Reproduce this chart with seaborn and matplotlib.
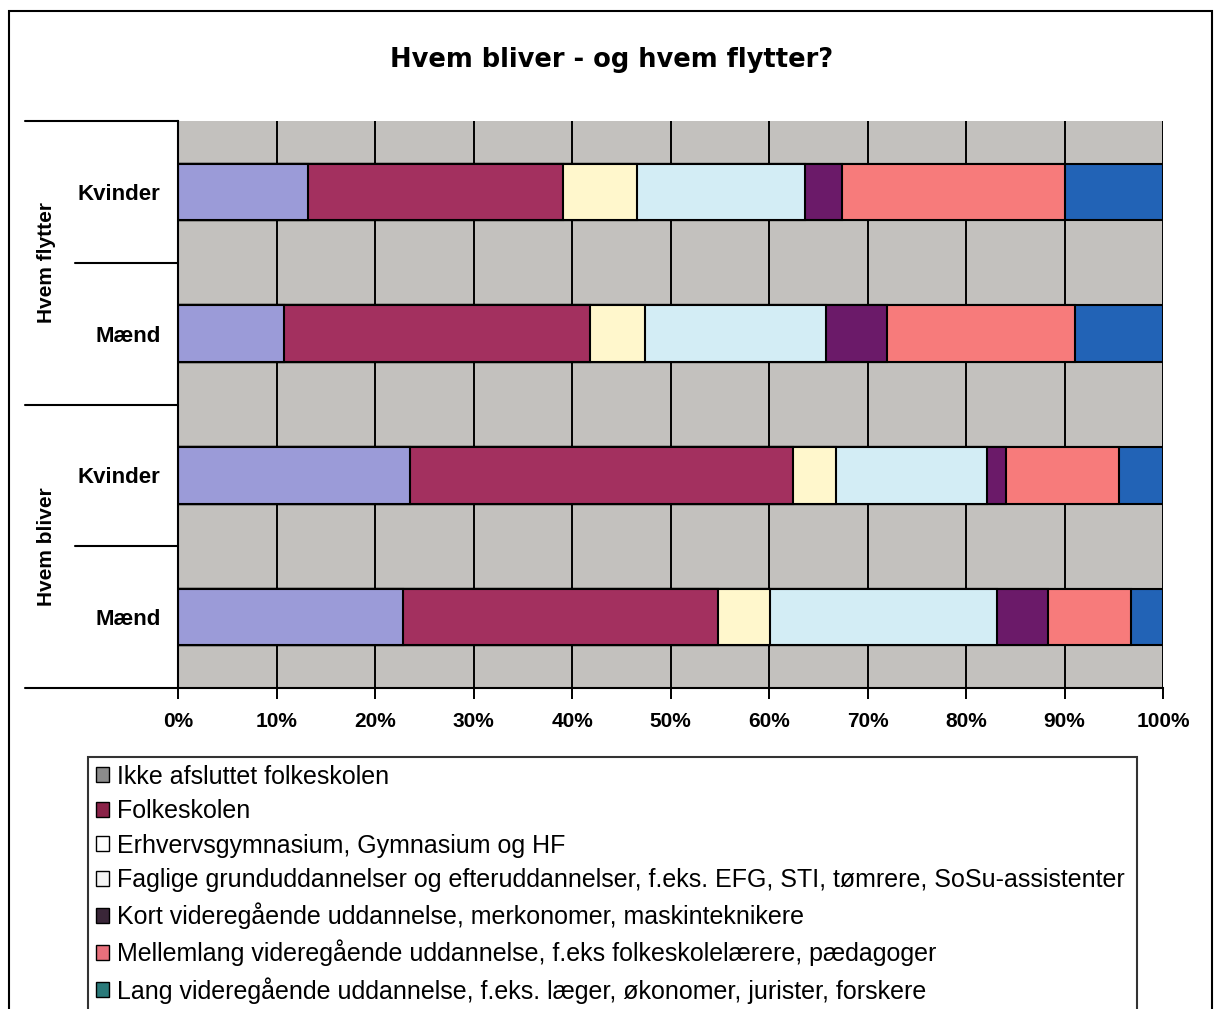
import numpy as np
import pandas as pd
import matplotlib
matplotlib.use("Agg")
import matplotlib.pyplot as plt
import matplotlib.transforms as mtransforms
import seaborn as sns
from matplotlib.patches import Patch, Rectangle
from matplotlib.lines import Line2D

# rows, top to bottom
groups = ["Hvem flytter", "Hvem flytter", "Hvem bliver", "Hvem bliver"]
genders = ["Kvinder", "Mænd", "Kvinder", "Mænd"]

levels = [
    "Ikke afsluttet folkeskolen",
    "Folkeskolen",
    "Erhvervsgymnasium, Gymnasium og HF",
    "Faglige grunduddannelser og efteruddannelser, f.eks. EFG, STI, tømrere, SoSu-assistenter",
    "Kort videregående uddannelse, merkonomer, maskinteknikere",
    "Mellemlang videregående uddannelse, f.eks folkeskolelærere, pædagoger",
    "Lang videregående uddannelse, f.eks. læger, økonomer, jurister, forskere",
]

# shares in percent
ikke = [13.2, 10.8, 23.6, 22.8]
folkeskolen = [25.9, 31.0, 38.8, 32.0]
gymnasium = [7.5, 5.6, 4.4, 5.3]
faglige = [17.1, 18.4, 15.3, 23.0]
kort = [3.7, 6.2, 2.0, 5.2]
mellemlang = [22.6, 19.1, 11.4, 8.5]
lang = [10.0, 8.9, 4.5, 3.2]

bar_colors = ["#9b9bd8", "#a3305f", "#fff7cc", "#d3edf5", "#6b1a69", "#f77b7b", "#2263b6"]
legend_colors = ["#8c8c8c", "#8a2248", "#ffffff", "#f4f4f4", "#3a2638", "#e8707c", "#2a7a7a"]

W, H = 1216, 1009

row_ids = [f"{g}|{s}" for g, s in zip(groups, genders)]
df = pd.DataFrame(
    np.array([ikke, folkeskolen, gymnasium, faglige, kort, mellemlang, lang]).T,
    columns=levels,
)
cum = df[levels].cumsum(axis=1)
cum["row"] = row_ids

sns.set_style("white")
plt.rcParams["font.family"] = ["Liberation Sans", "DejaVu Sans"]
plt.rcParams["text.color"] = "black"
plt.rcParams["xtick.color"] = "black"
plt.rcParams["ytick.color"] = "black"
plt.rcParams["axes.labelcolor"] = "black"

fig = plt.figure(figsize=(W / 100, H / 100), dpi=100)
ax = fig.add_axes([178 / W, 1 - 688 / H, (1163 - 178) / W, (688 - 121) / H])
ax.set_facecolor("#c3c1be")

# stacked bars: draw cumulative totals from the outside in
for i in reversed(range(len(levels))):
    sns.barplot(data=cum, x=levels[i], y="row", order=row_ids, orient="h",
                color=bar_colors[i], saturation=1, width=0.4, errorbar=None,
                edgecolor="black", linewidth=1.5, ax=ax, zorder=2)

ax.set_xlim(0, 100)
ax.set_ylim(3.5, -0.5)
ax.set_xlabel("")
ax.set_ylabel("")
ax.set_axisbelow(True)
ax.xaxis.grid(True, color="black", linewidth=1.4, zorder=0.5)
ax.yaxis.grid(False)

ticks = np.arange(0, 101, 10)
ax.set_xticks(ticks)
ax.set_xticklabels([f"{t}%" for t in ticks], fontsize=15, fontweight="bold")
ax.tick_params(axis="x", bottom=True, length=8, width=1.4, color="black", pad=9)
ax.set_yticks(range(len(row_ids)))
ax.set_yticklabels(genders, fontsize=16, fontweight="bold")
ax.tick_params(axis="y", left=False, pad=9)

for side in ["top", "right"]:
    ax.spines[side].set_visible(False)
for side in ["left", "bottom"]:
    ax.spines[side].set_color("black")
    ax.spines[side].set_linewidth(1.5)

# category separators and group labels on the left
trans = mtransforms.blended_transform_factory(fig.transFigure, ax.transData)
for y, x0 in [(-0.5, 25), (0.5, 75), (1.5, 25), (2.5, 75), (3.5, 25)]:
    fig.add_artist(Line2D([x0 / W, 178 / W], [y, y], transform=trans,
                          color="black", linewidth=1.5))
for y, g in [(0.5, "Hvem flytter"), (2.5, "Hvem bliver")]:
    fig.text(46 / W, y, g, transform=trans, rotation=90, ha="center", va="center",
             fontsize=15, fontweight="bold")

fig.text(612 / W, 1 - 60 / H, "Hvem bliver - og hvem flytter?", ha="center", va="center",
         fontsize=18.5, fontweight="bold", family="DejaVu Sans")

# outer chart border
fig.add_artist(Rectangle((9 / W, -0.05), (1212 - 9) / W, 1.05 - 11 / H,
                         transform=fig.transFigure, fill=False,
                         edgecolor="black", linewidth=1.5))

handles = [Patch(facecolor=c, edgecolor="black", linewidth=1) for c in legend_colors]
leg = fig.legend(handles, levels, loc="upper left",
                 bbox_to_anchor=(88 / W, 1 - 1100 / H, (1137 - 88) / W, (1100 - 757) / H),
                 mode="expand", fontsize=18, frameon=True, fancybox=False,
                 handlelength=0.55, handleheight=0.55, handletextpad=0.3,
                 labelspacing=0.42, borderpad=0.3, borderaxespad=0)
leg.get_frame().set_edgecolor("black")
leg.get_frame().set_linewidth(1.5)

fig.savefig("out.png", dpi=100)
